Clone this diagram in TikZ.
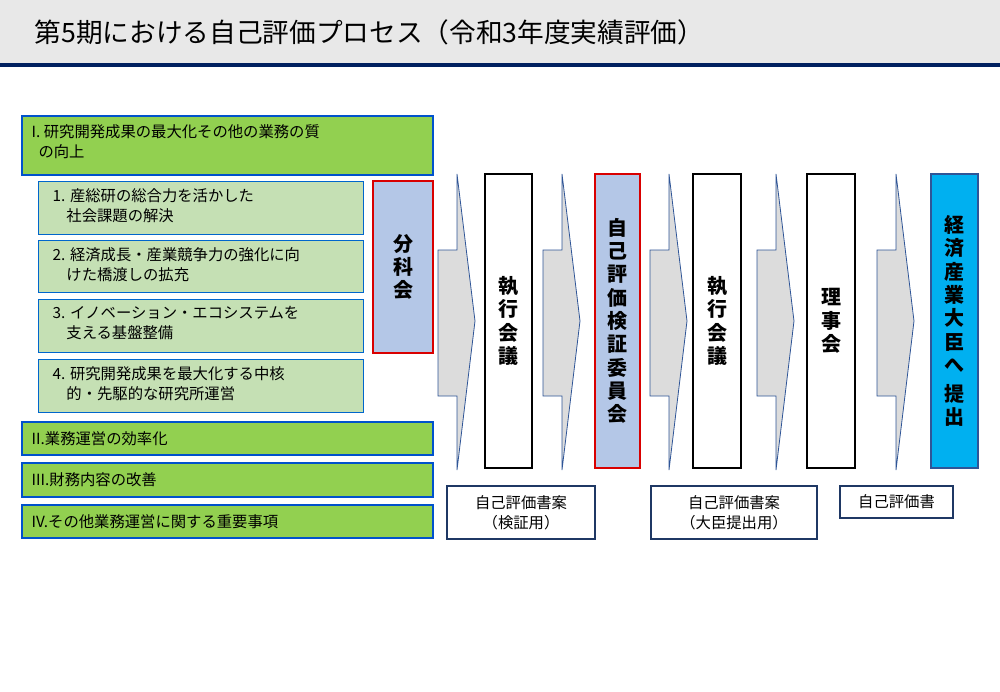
\documentclass[tikz,border=0pt]{standalone}
\usepackage{fontspec}
\setmainfont{Noto Sans CJK JP}
\begin{document}
\begin{tikzpicture}[x=0.75pt,y=-0.75pt,
 green/.style={draw=blue!60!cyan!80!black,fill=lgreen,line width=0.8pt,anchor=north west,inner sep=0pt},
 sub/.style={draw=blue!50!cyan!80!black,fill=pgreen,line width=0.6pt},
 vbox/.style={draw=black,fill=white,line width=0.8pt},
 vtext/.style={font=\fontsize{15}{17.5}\selectfont\bfseries,align=center},
 arr/.style={draw=arrblue,fill=arrgray,line width=0.6pt},
 doc/.style={draw=docblue,fill=white,line width=0.8pt}]
\definecolor{lgreen}{HTML}{92D050}
\definecolor{pgreen}{HTML}{C5E0B4}
\definecolor{lblue}{HTML}{B4C7E7}
\definecolor{cyanb}{HTML}{00B0F0}
\definecolor{arrblue}{HTML}{2F5597}
\definecolor{arrgray}{HTML}{DCDCDC}
\definecolor{docblue}{HTML}{1F3864}
\definecolor{navy}{HTML}{002060}
\useasboundingbox (0,0) rectangle (1000,692);
\fill[fill={rgb,255:red,232;green,232;blue,232}] (0,0) rectangle (1000,63);
\fill[navy] (0,63.5) rectangle (1000,67);
\node[anchor=west,font=\fontsize{20}{24}\selectfont] (title) at (30,32) {第5期における自己評価プロセス（令和3年度実績評価）};
% left
\tikzset{lt/.style={font=\fontsize{11.5}{15}\selectfont,anchor=north west,align=left}}
\draw[green] (22,116) rectangle (433,175);
\node[lt] (t1) at (27,120) {I. 研究開発成果の最大化その他の業務の質\\\ \ の向上};
\draw[sub] (38,181) rectangle (363,234);
\node[lt] (s1) at (48,184) {1. 産総研の総合力を活かした\\\ \ \ \ 社会課題の解決};
\draw[sub] (38,240) rectangle (363,292);
\node[lt] (s2) at (48,243) {2. 経済成長・産業競争力の強化に向\\\ \ \ \ けた橋渡しの拡充};
\draw[sub] (38,299) rectangle (363,352);
\node[lt] (s3) at (48,302) {3. イノベーション・エコシステムを\\\ \ \ \ 支える基盤整備};
\draw[sub] (38,359) rectangle (363,412);
\node[lt] (s4) at (48,362) {4. 研究開発成果を最大化する中核\\\ \ \ \ 的・先駆的な研究所運営};
\draw[green] (22,422) rectangle (433,455);
\node[lt,anchor=west] (t2) at (27,438.5) {II.業務運営の効率化};
\draw[green] (22,463) rectangle (433,497);
\node[lt,anchor=west] (t3) at (27,480) {III.財務内容の改善};
\draw[green] (22,505) rectangle (433,538);
\node[lt,anchor=west] (t4) at (27,521.5) {IV.その他業務運営に関する重要事項};
% vertical boxes
\draw[draw=red!85!black,fill=lblue,line width=0.8pt] (373,181) rectangle (433,353);
\node[vtext] (b1) at (403,267) {分\\科\\会};
\draw[vbox] (485,174) rectangle (532,468);
\node[vtext] (b2) at (508.5,321) {執\\行\\会\\議};
\draw[draw=red!85!black,fill=lblue,line width=0.8pt] (595,174) rectangle (640,468);
\node[vtext] (b3) at (617.5,321) {自\\己\\評\\価\\検\\証\\委\\員\\会};
\draw[vbox] (693,174) rectangle (741,468);
\node[vtext] (b4) at (717,321) {執\\行\\会\\議};
\draw[vbox] (807,174) rectangle (855,468);
\node[vtext] (b5) at (831,321) {理\\事\\会};
\draw[draw=arrblue,fill=cyanb,line width=0.8pt] (931,174) rectangle (978,468);
\node[vtext] (b6) at (954.5,321) {経\\済\\産\\業\\大\\臣\\へ\\[4pt]提\\出};
% arrows
\foreach \x in {438,543,650,757,877}{
 \draw[arr] (\x,250) -- (\x+19,250) -- (\x+19,174) -- (\x+37,321) -- (\x+19,470) -- (\x+19,396) -- (\x,396) -- cycle;}
% docs
\tikzset{dt/.style={font=\fontsize{11.5}{15}\selectfont,align=center}}
\draw[doc] (447,486) rectangle (595,539);
\node[dt] (d1) at (521,512.5) {自己評価書案\\（検証用）};
\draw[doc] (651,486) rectangle (817,539);
\node[dt] (d2) at (734,512.5) {自己評価書案\\（大臣提出用）};
\draw[doc] (840,486) rectangle (953,518);
\node[dt] (d3) at (896.5,502) {自己評価書};
\end{tikzpicture}
\end{document}
